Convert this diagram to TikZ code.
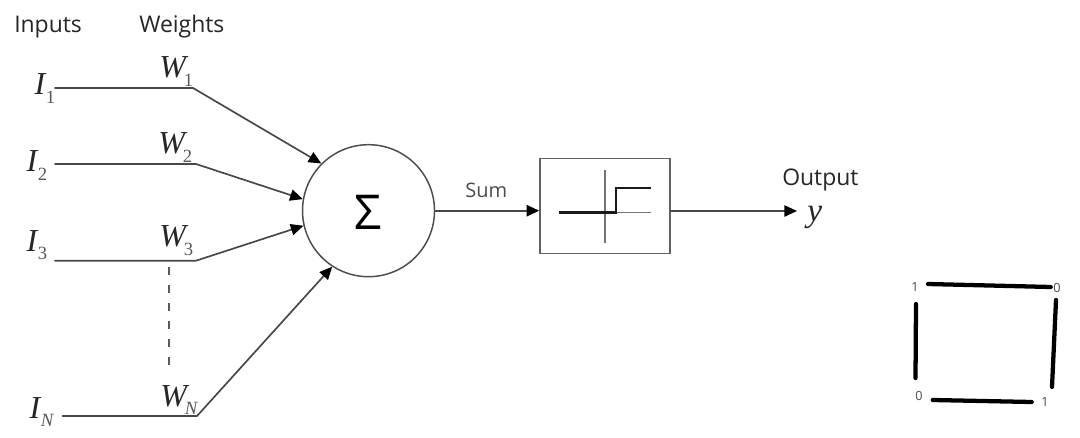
\documentclass[tikz,border=0pt]{standalone}
\usepackage{fontspec}
\setmainfont{Open Sans}
\newfontfamily\serifit{Liberation Serif}
\usetikzlibrary{arrows.meta}
\tikzset{
  wire/.style={draw=black!72,line width=1.25pt,line cap=round},
  arrowwire/.style={wire,-{Triangle[length=9.5pt,width=8.5pt,black]}},
  thinl/.style={draw=black!55,line width=1.2pt},
  stepl/.style={draw=black!90,line width=2.1pt},
  edgebar/.style={draw=black,line width=3.2pt,line cap=round},
  captext/.style={inner sep=0pt,font=\fontsize{17.2}{20}\selectfont,text=black!85},
  symtext/.style={inner sep=0pt,text=black!85},
  cornertext/.style={inner sep=0pt,font=\fontsize{9.5}{11}\selectfont,text=black!70},
}
\newcommand{\vI}[1]{{\serifit\fontsize{24}{26}\selectfont\itshape\kern1pt I\raisebox{-6.5pt}{\hspace{0.5pt}\fontsize{14}{16}\selectfont\color{black!65} #1}}}
\newcommand{\vW}[1]{{\serifit\fontsize{24}{26}\selectfont\itshape W\raisebox{-6.5pt}{\hspace{-1.5pt}\fontsize{14}{16}\selectfont\color{black!65} #1}}}
\begin{document}
\begin{tikzpicture}[x=0.75pt,y=-0.75pt]
\useasboundingbox[fill=white] (0,0) rectangle (1080,438);
% captions
\node[captext,anchor=base west] (inputs) at (14,33) {Inputs};
\node[captext,anchor=base west] (weights) at (139,33) {Weights};
\node[captext,anchor=base west,font=\fontsize{15}{17}\selectfont,text=black!70] (sumlabel) at (465,198) {Sum};
\node[captext,anchor=base west] (output) at (782,186) {Output};
% symbols
\node[symtext,anchor=base west] (I1) at (33,95) {\vI{\upshape 1}};
\node[symtext,anchor=base west] (I2) at (25,172) {\vI{\upshape 2}};
\node[symtext,anchor=base west] (I3) at (25,251) {\vI{\upshape 3}};
\node[symtext,anchor=base west] (IN) at (28,418) {\vI{N}};
\node[symtext,anchor=base west] (W1) at (159,78) {\vW{\upshape 1}};
\node[symtext,anchor=base west] (W2) at (158,154) {\vW{\upshape 2}};
\node[symtext,anchor=base west] (W3) at (159,247) {\vW{\upshape 3}};
\node[symtext,anchor=base west] (WN) at (160,406) {\vW{N}};
\node[symtext,anchor=base west] (y) at (807,221) {{\serifit\fontsize{25}{26}\selectfont\itshape y}};
% summation and step box
\node[circle,draw=black!70,line width=1.1pt,minimum size=99pt,inner sep=0pt] (sum) at (368.5,210.7) {};
\node[inner sep=0pt,font=\fontsize{36}{38}\selectfont,text=black] (sigma) at (368,212) {Σ};
\node[rectangle,draw=black!62,line width=1.2pt,minimum width=97.5pt,minimum height=71.5pt,inner sep=0pt] (stepbox) at (605,206) {};
% free ends
\coordinate (s1) at (55,88); \coordinate (b1) at (193,88);
\coordinate (s2) at (55,164); \coordinate (b2) at (196,164);
\coordinate (s3) at (55,260.7); \coordinate (b3) at (196,260.7);
\coordinate (sN) at (62.5,416); \coordinate (bN) at (197,416);
\coordinate (d1) at (169,267); \coordinate (d2) at (169,374);
\coordinate (yend) at (797,211);
% connectors
\draw[arrowwire] (s1) -- (b1) -- (sum.135);
\draw[arrowwire] (s2) -- (b2) -- (sum.170);
\draw[arrowwire] (s3) -- (b3) -- (sum.193);
\draw[arrowwire] (sN) -- (bN) -- (sum.237);
\draw[draw=black!65,line width=.9pt,dash pattern=on 6pt off 7.5pt] (d1) -- (d2);
\draw[arrowwire] (sum.east) -- (stepbox.west |- sum.east);
\draw[arrowwire] (stepbox.east |- yend) -- (yend);
% step function
\coordinate (hl) at (559,212.5); \coordinate (hr) at (651,212.5);
\coordinate (vt) at (605,170); \coordinate (vb) at (605,243);
\coordinate (k1) at (616,212.5); \coordinate (k2) at (616,188); \coordinate (k3) at (651,188);
\draw[thinl] (hl) -- (hr);
\draw[thinl] (vt) -- (vb);
\draw[stepl] (hl) -- (k1) -- (k2) -- (k3);
% square at the right
\node[cornertext] (c1) at (915,287) {1};
\node[cornertext] (c2) at (1057,288) {0};
\node[cornertext] (c3) at (919,396) {0};
\node[cornertext] (c4) at (1045,402) {1};
\coordinate (t1) at (928,284); \coordinate (t2) at (1050.7,287);
\coordinate (l1) at (916,304); \coordinate (l2) at (915.5,378);
\coordinate (r1) at (1056,300); \coordinate (r2) at (1052,387);
\coordinate (u1) at (932.7,400); \coordinate (u2) at (1031.7,402);
\draw[edgebar] (t1) -- (t2);
\draw[edgebar] (l1) -- (l2);
\draw[edgebar] (r1) -- (r2);
\draw[edgebar] (u1) -- (u2);
\end{tikzpicture}
\end{document}
